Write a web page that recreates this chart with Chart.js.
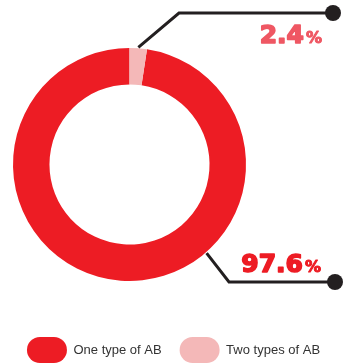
<!DOCTYPE html>
<html>
<head>
<meta charset="utf-8">
<script src="https://cdn.jsdelivr.net/npm/chart.js@4/dist/chart.umd.min.js"></script>
<style>
    html, body { margin: 0; padding: 0; background: #ffffff; }
    #wrap { width: 347px; height: 363px; }
</style>
</head>
<body>
<div id="wrap"><canvas id="abChart"></canvas></div>
<script>
const labels = ['One type of AB', 'Two types of AB'];
const values = [97.6, 2.4];
const colors = ['#ED1C24', '#F4B8B8'];
const valueColors = ['#ED1C24', '#EF5763'];

// keep the ring left of the canvas centre, legend keeps full width
const ringArea = {
    id: 'ringArea',
    afterLayout(chart) {
        const a = chart.chartArea;
        a.left = 13; a.right = 246; a.top = 48; a.bottom = 281;
        a.width = a.right - a.left;
        a.height = a.bottom - a.top;
    }
};

// leader lines, dots and the big percentage labels
const callouts = {
    id: 'callouts',
    afterDraw(chart) {
        const ctx = chart.ctx;
        const arcs = chart.getDatasetMeta(0).data;
        const lines = [
            { index: 1, angle: null, elbow: [179, 13], end: [333, 13], text: [323, 43] },
            { index: 0, angle: 139, elbow: [229, 282], end: [335, 282], text: [322, 272] }
        ];
        lines.forEach(function(l) {
            const arc = arcs[l.index];
            let a;
            if (l.angle === null) {
                a = (arc.startAngle + arc.endAngle) / 2;
            } else {
                a = (l.angle - 90) * Math.PI / 180;
            }
            const sx = arc.x + Math.cos(a) * (arc.outerRadius + 1);
            const sy = arc.y + Math.sin(a) * (arc.outerRadius + 1);

            ctx.save();
            ctx.strokeStyle = '#231F20';
            ctx.lineWidth = 3;
            ctx.lineJoin = 'miter';
            ctx.beginPath();
            ctx.moveTo(sx, sy);
            ctx.lineTo(l.elbow[0], l.elbow[1]);
            ctx.lineTo(l.end[0], l.end[1]);
            ctx.stroke();
            ctx.fillStyle = '#231F20';
            ctx.beginPath();
            ctx.arc(l.end[0], l.end[1], 8, 0, Math.PI * 2);
            ctx.fill();

            // heavier look: stroke first, fill on top in the same colour
            ctx.fillStyle = valueColors[l.index];
            ctx.strokeStyle = valueColors[l.index];
            ctx.lineJoin = 'round';
            ctx.textAlign = 'right';
            ctx.textBaseline = 'alphabetic';
            ctx.font = 'bold 16px "DejaVu Sans"';
            ctx.lineWidth = 1;
            ctx.strokeText('%', l.text[0] - 1, l.text[1]);
            ctx.fillText('%', l.text[0] - 1, l.text[1]);
            const pw = ctx.measureText('%').width;
            ctx.font = 'bold 25px "DejaVu Sans"';
            ctx.lineWidth = 1.6;
            const num = values[l.index].toFixed(1);
            ctx.strokeText(num, l.text[0] - pw - 3, l.text[1]);
            ctx.fillText(num, l.text[0] - pw - 3, l.text[1]);
            ctx.restore();
        });
    }
};

new Chart(document.getElementById('abChart'), {
    type: 'doughnut',
    data: {
        labels: labels,
        datasets: [{
            data: values,
            backgroundColor: colors,
            borderWidth: 0,
            hoverOffset: 0
        }]
    },
    options: {
        responsive: true,
        maintainAspectRatio: false,
        animation: false,
        rotation: values[1] * 3.6,
        cutout: '68.7%',
        plugins: {
            legend: {
                position: 'bottom',
                maxHeight: 44,
                labels: {
                    boxWidth: 40,
                    boxHeight: 26,
                    useBorderRadius: true,
                    borderRadius: 13,
                    padding: 18,
                    color: '#333333',
                    font: { family: '"Liberation Sans", Arial, sans-serif', size: 13 }
                }
            },
            tooltip: { enabled: false }
        }
    },
    plugins: [ringArea, callouts]
});
</script>
</body>
</html>
